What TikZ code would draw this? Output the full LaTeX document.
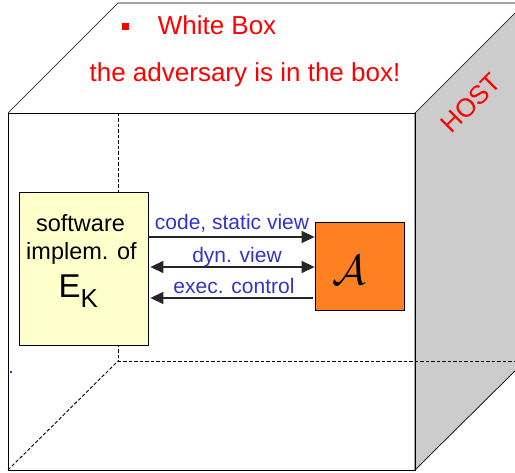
\documentclass[tikz,border=0pt]{standalone}
\usepackage{fix-cm}
\usepackage{fontspec}
\setmainfont{Liberation Sans}
\usetikzlibrary{arrows.meta}
\definecolor{sidegray}{RGB}{204,204,204}
\definecolor{boxyellow}{RGB}{255,255,204}
\definecolor{advorange}{RGB}{255,128,32}
\definecolor{labelblue}{RGB}{51,51,204}
\definecolor{alertred}{RGB}{255,0,0}
\tikzset{
  edge/.style={draw=black, line width=0.7pt},
  hidden/.style={draw=black, line width=0.9pt, dash pattern=on 3.5pt off 2pt},
  ekbox/.style={draw=black, line width=0.8pt, fill=boxyellow, inner sep=0pt},
  advbox/.style={draw=black, line width=0.8pt, fill=advorange, inner sep=0pt},
  flow/.style={draw=black!85, line width=1.4pt, -{Triangle[length=13pt,width=12pt]}},
  biflow/.style={draw=black!85, line width=1.4pt, {Triangle[length=13pt,width=12pt]}-{Triangle[length=13pt,width=12pt]}},
  flowlabel/.style={text=labelblue, font=\fontsize{21}{21}\selectfont, anchor=base, inner sep=0pt},
  boxtext/.style={font=\fontsize{23.5}{23.5}\selectfont, anchor=base, inner sep=0pt},
  redtext/.style={text=alertred, font=\fontsize{26}{26}\selectfont, anchor=base, inner sep=0pt}
}
\begin{document}
\begin{tikzpicture}[x=1pt, y=-1pt]
\useasboundingbox (0,0) rectangle (515,473);
\fill[white] (0,0) rectangle (515,473);

% the host cube
\begin{scope}
  \clip (0,0) rectangle (515,473);
  \filldraw[fill=sidegray, edge] (415,113) -- (525,3) -- (525,361) -- (415,470) -- cycle;
  \draw[edge] (8,113) -- (118,3) -- (525,3);
  \draw[hidden] (118,113) -- (118,361) -- (525,361);
  \draw[hidden] (8,470) -- (118,361);
  \draw[edge] (8,113) rectangle (415,470);
\end{scope}
\fill[labelblue] (10,371) rectangle (12,373);

% heading
\fill[alertred] (122,23) rectangle (129,30);
\node[redtext] (title) at (217,35) {White Box};
\node[redtext] (subtitle) at (245,82) {the adversary is in the box!};
\node[text=alertred, font=\fontsize{26}{26}\selectfont, rotate=45, inner sep=0pt] (host) at (471,103) {HOST};

% implementation and adversary
\node[ekbox, minimum width=129pt, minimum height=153pt] (ek) at (83.5,268.5) {};
\node[boxtext] (l1) at (80.5,232) {software};
\node[boxtext] (l2) at (81.5,260) {implem. of};
\node[anchor=base west, inner sep=0pt, font=\fontsize{33}{33}\selectfont] (l3) at (58.5,298)
  {E\raisebox{-10pt}{\fontsize{26}{26}\selectfont K}};

\node[advbox, minimum width=89pt, minimum height=88pt] (adv) at (359.5,266) {};
\node[inner sep=0pt] (advsym) at (349,270) {\fontsize{42}{42}\selectfont$\mathcal{A}$};

% interactions
\path (adv.west) ++(0,-29) coordinate (r1);
\path (adv.west) ++(0,1) coordinate (r2);
\path (adv.west) ++(0,32) coordinate (r3);
\draw[flow] (r1 -| ek.east) -- (r1);
\draw[biflow] ([xshift=2pt]r2 -| ek.east) -- (r2);
\draw[flow] ([xshift=-2pt]r3) -- ([xshift=2pt]r3 -| ek.east);
\node[flowlabel] (t1) at (232,230) {code, static view};
\node[flowlabel] (t2) at (237,263) {dyn. view};
\node[flowlabel] (t3) at (234,294) {exec. control};
\end{tikzpicture}
\end{document}
